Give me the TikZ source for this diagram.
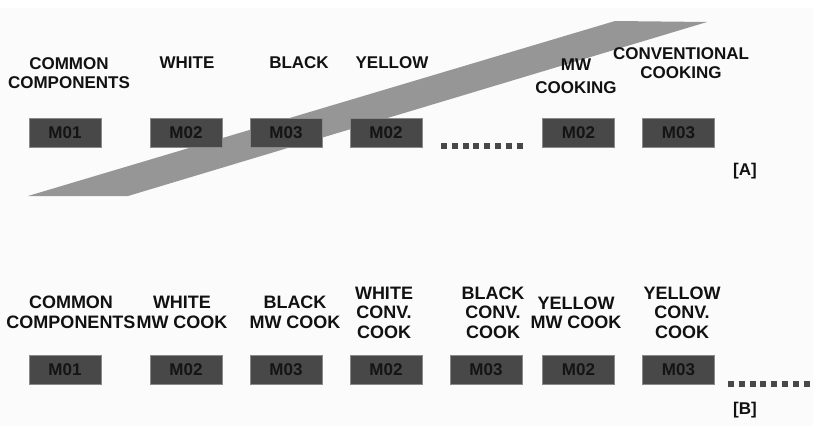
\documentclass[tikz,border=0pt]{standalone}
\usepackage{fontspec}
\setmainfont{Liberation Sans}
\definecolor{bgcol}{HTML}{FBFBFB}
\definecolor{bandcol}{HTML}{969696}
\definecolor{boxfill}{HTML}{484848}
\definecolor{boxedge}{HTML}{8A8A8A}
\definecolor{boxtext}{HTML}{141414}
\definecolor{txtcol}{HTML}{111111}
\begin{document}
\begin{tikzpicture}[x=1pt,y=-1pt,
  lbl/.style={font=\fontsize{17}{19.5}\selectfont\bfseries, align=center, inner sep=0pt, text=txtcol},
  lblb/.style={lbl, font=\fontsize{18}{19.5}\selectfont\bfseries},
  mbox/.style={draw=boxedge, fill=boxfill, line width=0.8pt, minimum width=72pt, minimum height=29pt,
    inner sep=0pt, font=\fontsize{17}{19}\selectfont\bfseries, text=boxtext},
  dotrow/.style={draw=boxfill, line width=6pt, dash pattern=on 6pt off 4.8pt}]
\useasboundingbox (0,0) rectangle (816,426);
\fill[white] (0,0) rectangle (816,426);
\fill[bgcol] (0,8) rectangle (813,426);
% band
\fill[bandcol] (28,196) -- (128,196) -- (707,22) -- (615,21) -- cycle;
% top row texts
\node[lbl] (ta1) at (69,73) {COMMON\\COMPONENTS};
\node[lbl] (ta2) at (187,63) {WHITE};
\node[lbl] (ta3) at (299,63) {BLACK};
\node[lbl] (ta4) at (392,63) {YELLOW};
\node[lbl, font=\fontsize{17}{23}\selectfont\bfseries] (ta5) at (576,76.5) {MW\\COOKING};
\node[lbl] (ta6) at (681,63) {CONVENTIONAL\\COOKING};
% top row boxes
\node[mbox] (a1) at (65,132.5) {M01};
\node[mbox] (a2) at (186,132.5) {M02};
\node[mbox] (a3) at (286,132.5) {M03};
\node[mbox] (a4) at (386,132.5) {M02};
\node[mbox] (a5) at (578.5,132.5) {M02};
\node[mbox] (a6) at (678.5,132.5) {M03};
\coordinate (da1) at (441,146);
\coordinate (da2) at (524,146);
\draw[dotrow] (da1) -- (da2);
\node[lbl] (labA) at (745,171) {[A]};
% bottom row texts
\node[lblb] (tb1) at (71,312.5) {COMMON\\COMPONENTS};
\node[lblb] (tb2) at (182,312.5) {WHITE\\MW COOK};
\node[lblb] (tb3) at (295,312.5) {BLACK\\MW COOK};
\node[lblb] (tb4) at (384,312.5) {WHITE\\CONV.\\COOK};
\node[lblb] (tb5) at (493,312.5) {BLACK\\CONV.\\COOK};
\node[lblb] (tb6) at (576,313) {YELLOW\\MW COOK};
\node[lblb] (tb7) at (682,312.5) {YELLOW\\CONV.\\COOK};
% bottom row boxes
\node[mbox] (b1) at (65,370) {M01};
\node[mbox] (b2) at (186,370) {M02};
\node[mbox] (b3) at (286,370) {M03};
\node[mbox] (b4) at (386,370) {M02};
\node[mbox] (b5) at (486,370) {M03};
\node[mbox] (b6) at (578.5,370) {M02};
\node[mbox] (b7) at (678.5,370) {M03};
\coordinate (db1) at (728,384);
\coordinate (db2) at (810,384);
\draw[dotrow] (db1) -- (db2);
\node[lbl] (labB) at (745,410) {[B]};
\end{tikzpicture}
\end{document}
